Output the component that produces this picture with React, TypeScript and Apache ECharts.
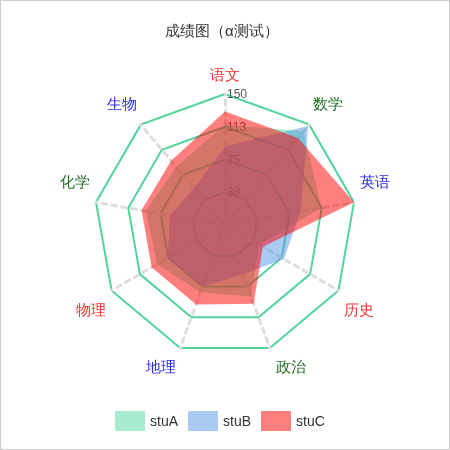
import React, { useEffect, useRef } from "react";
import * as echarts from "echarts";

const subjects = ["语文", "生物", "化学", "物理", "地理", "政治", "历史", "英语", "数学"];
const subjectColors = ["#ee3333", "#2a2ae6", "#226b22", "#ee3333", "#2a2ae6", "#226b22", "#ee3333", "#2a2ae6", "#226b22"];
const maxScore = 150;
const seriesNames = ["stuA", "stuB", "stuC"];
const stuA = [115, 87, 92, 90, 82, 87, 45, 112, 140];
const stuB = [90, 55, 64, 76, 75, 60, 78, 88, 148];
const stuC = [130, 96, 97, 97, 97, 96, 50, 150, 130];
const seriesColors = ["rgba(82,217,160,0.5)", "rgba(86,150,229,0.5)", "rgba(255,0,0,0.5)"];
// vertical nudge of each indicator name (negative = up), in px
const nameShift = [-6, -17, -20, 16, 13, 13, 16, -20, -17];
// horizontal spacer (px) placed before (政治) or after (地理) the name
const nameSideGap = [0, 0, 0, 0, 2, 4, 0, 0, 0];

export default function App() {
  const ref = useRef<HTMLDivElement>(null);
  useEffect(() => {
    const chart = echarts.init(ref.current!, undefined, { renderer: "svg" });
    const values = [stuA, stuB, stuC];
    const rich: Record<string, any> = { s6: { lineHeight: 6, fontSize: 1 } };
    nameShift.forEach((d) => {
      const h = Math.abs(d) * 2;
      rich["s" + h] = { lineHeight: h, fontSize: 1 };
    });
    nameSideGap.forEach((w) => {
      if (w) rich["w" + w] = { width: w, fontSize: 1 };
    });
    chart.setOption({
      animation: false,
      title: {
        text: "成绩图（α测试）",
        left: 159,
        top: 17,
        textStyle: { fontSize: 15, fontWeight: "normal", color: "#333" },
      },
      legend: {
        data: seriesNames,
        left: 109,
        top: 405,
        icon: "rect",
        itemWidth: 30,
        itemHeight: 20,
        itemGap: 10,
        textStyle: { fontSize: 14, color: "#333" },
      },
      radar: {
        center: ["50%", "50%"],
        radius: 131,
        splitNumber: 4,
        axisNameGap: 6,
        axisName: {
          fontSize: 15,
          rich,
          formatter: (name: string) => {
            const i = subjects.indexOf(name);
            const d = nameShift[i];
            const w = nameSideGap[i];
            let label = name;
            if (w) {
              const sx = subjectColors[i] && i === 5 ? "{w" + w + "|}" + name : name + "{w" + w + "|}";
              label = sx;
            }
            if (i === 0) return label + "\n{s6| }";
            const h = Math.abs(d) * 2;
            return d < 0 ? label + "\n{s" + h + "| }" : "{s" + h + "| }\n" + label;
          },
        },
        indicator: subjects.map((s, i) => {
          const ind: any = { name: s, max: maxScore, color: subjectColors[i] };
          if (i === 0) ind.axisLabel = { show: true };
          return ind;
        }),
        axisLabel: {
          show: false,
          color: "#555",
          fontSize: 12,
          margin: -2,
          align: "left",
          verticalAlign: "middle",
          padding: [0, 0, 8, 0],
          showMinLabel: false,
          formatter: (v: number) => String(Math.round(v)),
        },
        axisLine: { lineStyle: { color: "#ddd", width: 3, type: [5, 5] } },
        splitLine: { lineStyle: { color: "#52d49c", width: 2 } },
        splitArea: { show: false },
      },
      series: seriesNames.map((n, i) => ({
        name: n,
        type: "radar",
        symbol: "none",
        color: seriesColors[i],
        itemStyle: { color: seriesColors[i] },
        lineStyle: { width: 0 },
        areaStyle: { color: seriesColors[i], opacity: 1 },
        data: [{ value: values[i], name: n }],
      })),
    });
    return () => chart.dispose();
  }, []);
  return (
    <div
      ref={ref}
      style={{
        position: "fixed",
        left: 0,
        top: 0,
        width: 450,
        height: 450,
        border: "1px solid #ccc",
        boxSizing: "border-box",
      }}
    />
  );
}
